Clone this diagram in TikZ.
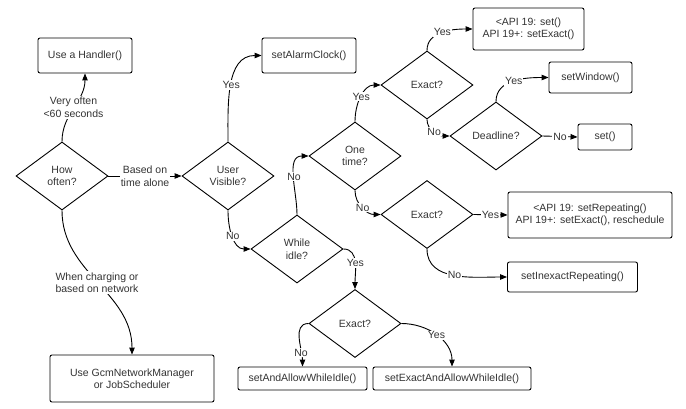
\documentclass[tikz,border=0pt]{standalone}
\usepackage{fontspec}
\setmainfont{Liberation Sans}
\usetikzlibrary{shapes.geometric,arrows.meta,positioning}

\begin{document}
\begin{tikzpicture}[x=1pt, y=1pt, line width=0.9pt, >={Triangle[length=7pt,width=5.5pt]},
   font=\fontsize{10.5}{12.5}\selectfont]
   \useasboundingbox (0,0) rectangle (686,-409);
   % boxes
   \begin{scope}[every node/.style={draw, rounded corners=2pt, align=center, text=black!80, inner sep=0pt}]
    \node[minimum width=94pt, minimum height=35pt] (handler) at (85,-55.5) {Use a Handler()};
    \node[minimum width=94pt, minimum height=35pt] (alarm) at (309,-55.5) {setAlarmClock()};
    \node[minimum width=111pt, minimum height=42pt] (api) at (528.5,-29) {<API 19: set()\\API 19+: setExact()};
    \node[minimum width=83pt, minimum height=31pt] (window) at (590.5,-77.5) {setWindow()};
    \node[minimum width=54pt, minimum height=26pt] (set) at (605,-137) {set()};
    \node[minimum width=164pt, minimum height=46pt] (repeat) at (590,-215) {<API 19: setRepeating()\\API 19+: setExact(), reschedule};
    \node[minimum width=130pt, minimum height=30pt] (inexact) at (572.5,-277) {setInexactRepeating()};
    \node[minimum width=129pt, minimum height=23pt] (allow) at (302.5,-378.5) {setAndAllowWhileIdle()};
    \node[minimum width=158pt, minimum height=23pt] (exactallow) at (452,-378.5) {setExactAndAllowWhileIdle()};
    \node[minimum width=164pt, minimum height=47pt] (gcm) at (132,-378.5) {Use GcmNetworkManager\\or JobScheduler};
   \end{scope}
   % decisions
   \begin{scope}[every node/.style={diamond, draw, align=center, text=black!80, inner sep=0pt, minimum width=92pt, minimum height=68pt}]
    \node (how) at (62,-176) {How\\often?};
    \node (user) at (228,-176) {User\\Visible?};
    \node (idle) at (297,-249) {While\\idle?};
    \node (once) at (355,-156) {One\\time?};
    \node (exact1) at (427,-85) {Exact?};
    \node (deadline) at (496,-136) {Deadline?};
    \node (exact2) at (427,-214.5) {Exact?};
    \node (exact3) at (355,-323.5) {Exact?};
   \end{scope}
   % connectors
   \begin{scope}[every edge/.style={draw=black, line width=0.9pt, ->}, every node/.style={fill=white, inner sep=1pt, align=center, text=black!80}]
    \draw (how.north) edge[out=90, in=-90] node{Very often\\<60 seconds} (handler.south);
    \draw (how.east) edge node{Based on\\time alone} (user.west);
    \draw (how.south) edge[out=-90, in=90] node{When charging or\\based on network} (gcm.north);
    \draw (user.north) edge[out=90, in=180] node{Yes} (alarm.west);
    \draw (user.south) edge[out=-90, in=180] node{No} (idle.west);
    \draw (idle.north) edge[out=90, in=180] node{No} (once.west);
    \draw (idle.east) edge[out=0, in=90] node{Yes} (exact3.north);
    \draw (once.north) edge[out=90, in=180] node{Yes} (exact1.west);
    \draw (once.south) edge[out=-90, in=180] node{No} (exact2.west);
    \draw (exact1.north) edge[out=90, in=180] node{Yes} (api.west);
    \draw (exact1.south) edge[out=-90, in=180] node{No} (deadline.west);
    \draw (deadline.north) edge[out=90, in=180] node{Yes} (window.west);
    \draw (deadline.east) edge node{No} (set.west);
    \draw (exact2.east) edge node{Yes} (repeat.west);
    \draw (exact2.south) edge[out=-90, in=180] node{No} (inexact.west);
    \draw (exact3.west) edge[out=180, in=90] node[pos=0.75]{No} (allow.north);
    \draw (exact3.east) edge[out=0, in=90] node{Yes} (exactallow.north);
   \end{scope}
\end{tikzpicture}
\end{document}
